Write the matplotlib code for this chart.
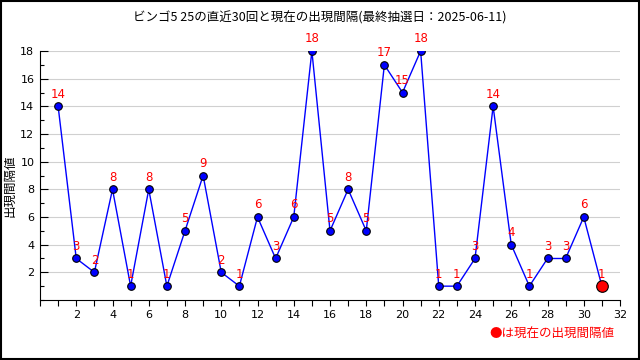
import matplotlib
matplotlib.use("Agg")
import matplotlib.pyplot as plt
from matplotlib.ticker import MultipleLocator
from matplotlib.patches import Rectangle

plt.rcParams['font.family'] = ['Noto Sans CJK JP', 'DejaVu Sans']

# 直近30回 + 現在
draws = list(range(1, 32))
intervals = [14, 3, 2, 8, 1, 8, 1, 5, 9, 2, 1, 6, 3, 6, 18, 5, 8, 5, 17, 15,
             18, 1, 1, 3, 14, 4, 1, 3, 3, 6, 1]
title = "ビンゴ5 25の直近30回と現在の出現間隔(最終抽選日：2025-06-11)"

fig = plt.figure(figsize=(6.4, 3.6), dpi=100)
ax = fig.add_axes([0.0625, 0.1667, 0.90625, 0.6916])

ax.plot(draws, intervals, color="#0000ff", lw=1, zorder=3)
ax.scatter(draws[:-1], intervals[:-1], s=30, color="#0000ff",
           edgecolors="black", linewidths=0.8, zorder=4)
ax.scatter(draws[-1:], intervals[-1:], s=70, color="#ff0000",
           edgecolors="black", linewidths=0.8, zorder=5)

for x, y in zip(draws, intervals):
    ax.annotate(str(y), (x, y), xytext=(0, 4), textcoords="offset points",
                ha="center", va="bottom", color="#ff0000", fontsize=8.5,
                family=["DejaVu Sans"], zorder=6)

ax.set_xlim(0, 32)
ax.set_ylim(0, 18)
ax.xaxis.set_minor_locator(MultipleLocator(1))
ax.yaxis.set_minor_locator(MultipleLocator(1))
ax.set_yticks([2, 4, 6, 8, 10, 12, 14, 16, 18])
ax.set_xticks(range(2, 33, 2))

ax.tick_params(axis="x", which="both", direction="out", length=4, width=0.8,
               labelsize=8, pad=3)
ax.tick_params(axis="y", which="major", direction="in", length=6, width=0.8,
               labelsize=8, pad=4)
ax.tick_params(axis="y", which="minor", direction="in", length=3, width=0.8)
for lbl in ax.get_xticklabels() + ax.get_yticklabels():
    lbl.set_family(["DejaVu Sans"])

ax.grid(axis="y", which="major", color="#d0d0d0", lw=0.8)
ax.set_axisbelow(True)
ax.spines["top"].set_visible(False)
ax.spines["right"].set_visible(False)

fig.text(0.016, 0.485, "出現間隔値", rotation=90, ha="center", va="center",
         fontsize=9)
fig.text(0.5, 0.95, title, ha="center", va="center", fontsize=9)
fig.text(0.96, 0.07, "●は現在の出現間隔値", ha="right", va="center",
         color="#ff0000", fontsize=9)

fig.patches.append(Rectangle((0.001, 0.002), 0.997, 0.996, transform=fig.transFigure,
                             fill=False, edgecolor="black", lw=1.5))

fig.savefig("out.png", dpi=100)
